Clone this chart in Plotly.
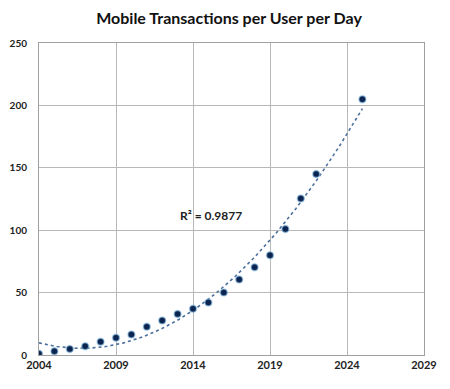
import numpy as np
import plotly.graph_objects as go

years = [2004, 2005, 2006, 2007, 2008, 2009, 2010, 2011, 2012, 2013, 2014,
         2015, 2016, 2017, 2018, 2019, 2020, 2021, 2022, 2025]
values = [1, 3, 4.8, 7, 10.7, 13.9, 16.5, 22.7, 27.7, 32.8, 37,
          42, 50, 60.5, 70.4, 80, 101, 125.5, 145, 205]
x_ticks = [2004, 2009, 2014, 2019, 2024, 2029]
y_ticks = [0, 50, 100, 150, 200, 250]
title = "Mobile Transactions per User per Day"
r2_label = "R² = 0.9877"

coef = np.polyfit(years, values, 2)
tx = np.linspace(years[0], years[-1], 200)
ty = np.polyval(coef, tx)

fig = go.Figure()
fig.add_trace(go.Scatter(x=tx, y=ty, mode="lines",
                         line=dict(color="#4a6f9c", width=1.6, dash="dot"),
                         hoverinfo="skip", showlegend=False))
fig.add_trace(go.Scatter(x=years, y=values, mode="markers",
                         marker=dict(color="#0b2550", size=7,
                                     line=dict(color="rgba(150,200,235,0.6)", width=1.5)),
                         showlegend=False))

fig.add_annotation(x=2015.2, y=112, text=r2_label, showarrow=False,
                   font=dict(family="Lato, Arial", size=12, color="#222222", weight="bold"))

fig.update_layout(
    width=442, height=381,
    margin=dict(l=31, r=26, t=35, b=34),
    paper_bgcolor="white", plot_bgcolor="white",
    title=dict(text=title, x=0.5, xanchor="center", y=0.972, yanchor="middle",
               font=dict(family="Lato, Arial", size=16, color="#111111", weight="bold")),
    font=dict(family="Lato, Arial", size=10, color="#222222"),
)
fig.update_xaxes(range=[2004, 2029], tickvals=x_ticks, ticktext=[str(v) for v in x_ticks],
                 showgrid=True, gridcolor="#b8b8b8", gridwidth=1, automargin=False,
                 showline=True, linecolor="#a0a0a0", mirror=True, zeroline=False,
                 ticks="", tickfont=dict(size=11, weight="bold", color="#222222"))
fig.update_yaxes(range=[0, 250], tickvals=y_ticks, ticktext=[str(v) for v in y_ticks],
                 showgrid=True, gridcolor="#b8b8b8", gridwidth=1, automargin=False,
                 showline=True, linecolor="#a0a0a0", mirror=True, zeroline=False,
                 ticks="", ticklabelstandoff=9,
                 tickfont=dict(size=10, weight="bold", color="#222222"))

fig.write_html("out.html")
